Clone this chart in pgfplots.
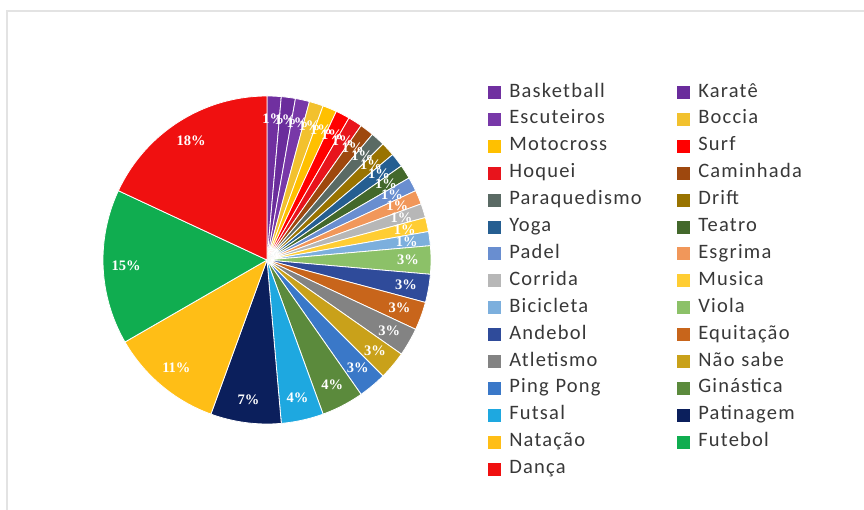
\documentclass[border=0pt]{standalone}
\usepackage{pgfplots}
\usepackage{pgfplotstable}
\pgfplotsset{compat=1.18}
\usepackage{fontspec}
\setmainfont{Carlito}
\newfontfamily\lblfont{Liberation Serif}
\newfontfamily\legfont[LetterSpace=6]{Carlito}
\definecolor{c1}{HTML}{7030A0}
\definecolor{c2}{HTML}{6A2C9C}
\definecolor{c3}{HTML}{7838A8}
\definecolor{c4}{HTML}{F2C12E}
\definecolor{c5}{HTML}{FFC000}
\definecolor{c6}{HTML}{FF0000}
\definecolor{c7}{HTML}{E8141C}
\definecolor{c8}{HTML}{9E480E}
\definecolor{c9}{HTML}{5A6A64}
\definecolor{c10}{HTML}{997300}
\definecolor{c11}{HTML}{255E91}
\definecolor{c12}{HTML}{43682B}
\definecolor{c13}{HTML}{698ED0}
\definecolor{c14}{HTML}{F1975A}
\definecolor{c15}{HTML}{B7B7B7}
\definecolor{c16}{HTML}{FFCD33}
\definecolor{c17}{HTML}{7CAFDD}
\definecolor{c18}{HTML}{8CC168}
\definecolor{c19}{HTML}{2F4B9A}
\definecolor{c20}{HTML}{C8651B}
\definecolor{c21}{HTML}{838383}
\definecolor{c22}{HTML}{C9A11A}
\definecolor{c23}{HTML}{3A78C8}
\definecolor{c24}{HTML}{5B8A3C}
\definecolor{c25}{HTML}{1EA8E0}
\definecolor{c26}{HTML}{0B1F5C}
\definecolor{c27}{HTML}{FFBE16}
\definecolor{c28}{HTML}{10AD50}
\definecolor{c29}{HTML}{F01010}
\definecolor{legendgray}{HTML}{383838}
\definecolor{framegray}{HTML}{E3E3E3}

\pgfplotstableread[col sep=comma]{
name,count,col
Basketball,1,c1
Karatê,1,c2
Escuteiros,1,c3
Boccia,1,c4
Motocross,1,c5
Surf,1,c6
Hoquei,1,c7
Caminhada,1,c8
Paraquedismo,1,c9
Drift,1,c10
Yoga,1,c11
Teatro,1,c12
Padel,1,c13
Esgrima,1,c14
Corrida,1,c15
Musica,1,c16
Bicicleta,1,c17
Viola,2,c18
Andebol,2,c19
Equitação,2,c20
Atletismo,2,c21
Não sabe,2,c22
Ping Pong,2,c23
Ginástica,3,c24
Futsal,3,c25
Patinagem,5,c26
Natação,8,c27
Futebol,11,c28
Dança,13,c29
}\sports

\begin{document}
\begin{tikzpicture}
\path[use as bounding box] (0,0) rectangle (864bp,510bp);
\draw[framegray, line width=2bp] (7bp,0) -- (7bp,499bp) -- (864bp,499bp);
\pgfplotstablegetrowsof{\sports}
\pgfmathtruncatemacro\lastrow{\pgfplotsretval-1}
\def\total{0}
\pgfplotsforeachungrouped \i in {0,...,\lastrow}{%
  \pgfplotstablegetelem{\i}{count}\of\sports
  \pgfmathsetmacro\total{\total+\pgfplotsretval}%
}
\begin{axis}[
  at={(267bp,250bp)}, anchor=center,
  scale only axis, width=328bp, height=328bp,
  xmin=-1, xmax=1, ymin=-1, ymax=1,
  hide axis, clip=false,
  legend columns=2,
  legend cell align=left,
  legend image code/.code={\fill[#1,draw=none] (0bp,-6.5bp) rectangle (13bp,6.5bp);},
  legend style={draw=none, fill=none, at={(1.174,1.04)}, anchor=north west,
    inner sep=0pt, font=\legfont\fontsize{20.5bp}{24bp}\selectfont, text=legendgray,
    row sep=7.9bp,
    nodes={inner sep=0pt, text height=14bp, text depth=5bp, text width=152bp, align=left},
    /tikz/every odd column/.append style={column sep=8bp},
    /tikz/every even column/.append style={column sep=16bp}},
]
\def\cum{0}
\pgfplotsforeachungrouped \i in {0,...,\lastrow}{%
  \pgfplotstablegetelem{\i}{count}\of\sports \let\v\pgfplotsretval
  \pgfplotstablegetelem{\i}{col}\of\sports \let\c\pgfplotsretval
  \pgfplotstablegetelem{\i}{name}\of\sports \let\n\pgfplotsretval
  \pgfmathsetmacro\a{90-360*(\cum/\total)}%
  \pgfmathsetmacro\cum{\cum+\v}%
  \pgfmathsetmacro\b{90-360*(\cum/\total)}%
  \edef\temp{%
    \noexpand\addplot[fill=\c, draw=white, line width=0.8bp, domain=\b:\a, samples=60]
      ({cos(x)},{sin(x)}) -- (axis cs:0,0) -- cycle;
    \noexpand\addlegendentry{\n}%
  }\temp
}
\def\cum{0}
\pgfplotsforeachungrouped \i in {0,...,\lastrow}{%
  \pgfplotstablegetelem{\i}{count}\of\sports \let\v\pgfplotsretval
  \pgfmathsetmacro\a{90-360*(\cum/\total)}%
  \pgfmathsetmacro\cum{\cum+\v}%
  \pgfmathsetmacro\b{90-360*(\cum/\total)}%
  \pgfmathsetmacro\m{(\a+\b)/2}%
  \pgfmathsetmacro\lx{0.86*cos(\m)}%
  \pgfmathsetmacro\ly{0.86*sin(\m)}%
  \pgfmathtruncatemacro\p{round(100*(\v/\total))}%
  \edef\temp{%
    \noexpand\node[text=white, font=\noexpand\lblfont\noexpand\bfseries\noexpand\fontsize{14.5bp}{16bp}\noexpand\selectfont, inner sep=0pt]
      at (axis cs:\lx,\ly) {\p\noexpand\%};%
  }\temp
}
\end{axis}
\end{tikzpicture}
\end{document}
